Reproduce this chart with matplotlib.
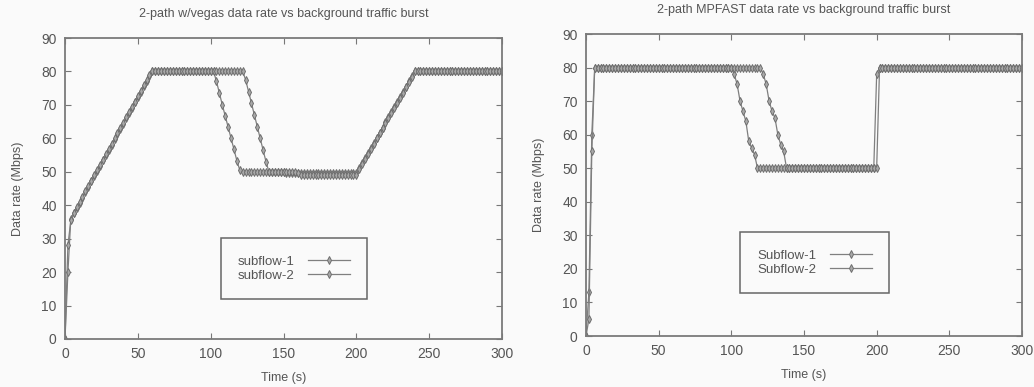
import matplotlib
matplotlib.use("Agg")
import matplotlib.pyplot as plt

plt.rcParams['font.family'] = ['Liberation Sans', 'DejaVu Sans']

# sample times (s), both runs logged every 2 s
t_vegas = list(range(0, 301, 2))
t_mpfast = list(range(0, 301, 2))

vegas_sf1 = [
    0, 20, 36, 37.6, 39.2, 40.7, 42.3, 43.9, 45.5, 47.1, 48.6, 50.2, 51.8, 53.4, 55, 56.5, 58.1, 59.7, 61.3, 62.9,
    64.4, 66, 67.6, 69.2, 70.8, 72.3, 73.9, 75.5, 77.1, 78.7, 80, 80, 80, 80, 80, 80, 80, 80, 80, 80,
    80, 80, 80, 80, 80, 80, 80, 80, 80, 80, 80, 80, 77, 73.5, 70, 66.7, 63.3, 60, 56.7, 53.3,
    50.5, 50, 50, 50, 50, 50, 50, 50, 50, 50, 50, 50, 50, 50, 50, 50, 49.5, 49.5, 49.5, 49.5,
    49.5, 49.5, 49.5, 49.5, 49.5, 49.5, 49.5, 49.5, 49.5, 49.5, 49.5, 49.5, 49.5, 49.5, 49.5, 49.5, 49.5, 49.5, 49.5, 49.5,
    49.5, 51, 52.5, 54, 55.5, 57.1, 58.6, 60.2, 61.7, 63.2, 64.8, 66.3, 67.8, 69.3, 70.9, 72.4, 73.9, 75.4, 77, 78.5,
    80, 80, 80, 80, 80, 80, 80, 80, 80, 80, 80, 80, 80, 80, 80, 80, 80, 80, 80, 80,
    80, 80, 80, 80, 80, 80, 80, 80, 80, 80,
    80,
]
vegas_sf2 = [
    0, 28, 35.5, 37.8, 39.4, 41, 42.6, 44.2, 45.8, 47.3, 48.9, 50.5, 52.1, 53.6, 55.2, 56.8, 58.4, 60, 61.5, 63.1,
    64.7, 66.3, 67.9, 69.4, 71, 72.6, 74.2, 75.8, 77.3, 78.9, 80, 80, 80, 80, 80, 80, 80, 80, 80, 80,
    80, 80, 80, 80, 80, 80, 80, 80, 80, 80, 80, 80, 80, 80, 80, 80, 80, 80, 80, 80,
    80, 80, 77.5, 74, 70.5, 67, 63.5, 60, 56.5, 53, 50, 50, 50, 50, 50, 50, 50, 50, 50, 50,
    49.5, 49, 49, 49, 49, 49, 49, 49, 49, 49, 49, 49, 49, 49, 49, 49, 49, 49, 49, 49,
    49, 50.8, 52.3, 53.8, 55.3, 56.9, 58.4, 60, 61.5, 63, 64.6, 66.1, 67.6, 69.1, 70.7, 72.2, 73.7, 75.2, 76.8, 78.3,
    80, 80, 80, 80, 80, 80, 80, 80, 80, 80, 80, 80, 80, 80, 80, 80, 80, 80, 80, 80,
    80, 80, 80, 80, 80, 80, 80, 80, 80, 80,
    80,
]

mpfast_sf1 = [
    0, 13, 60, 80, 80, 80, 80, 80, 80, 80, 80, 80, 80, 80, 80, 80, 80, 80, 80, 80,
    80, 80, 80, 80, 80, 80, 80, 80, 80, 80, 80, 80, 80, 80, 80, 80, 80, 80, 80, 80,
    80, 80, 80, 80, 80, 80, 80, 80, 80, 80, 80, 78, 75, 70, 67, 64, 58, 56, 54, 50,
    50, 50, 50, 50, 50, 50, 50, 50, 50, 50, 50, 50, 50, 50, 50, 50, 50, 50, 50, 50,
    50, 50, 50, 50, 50, 50, 50, 50, 50, 50, 50, 50, 50, 50, 50, 50, 50, 50, 50, 50,
    78, 80, 80, 80, 80, 80, 80, 80, 80, 80, 80, 80, 80, 80, 80, 80, 80, 80, 80, 80,
    80, 80, 80, 80, 80, 80, 80, 80, 80, 80, 80, 80, 80, 80, 80, 80, 80, 80, 80, 80,
    80, 80, 80, 80, 80, 80, 80, 80, 80, 80,
    80,
]
mpfast_sf2 = [
    0, 5, 55, 80, 80, 80, 80, 80, 80, 80, 80, 80, 80, 80, 80, 80, 80, 80, 80, 80,
    80, 80, 80, 80, 80, 80, 80, 80, 80, 80, 80, 80, 80, 80, 80, 80, 80, 80, 80, 80,
    80, 80, 80, 80, 80, 80, 80, 80, 80, 80, 80, 80, 80, 80, 80, 80, 80, 80, 80, 80,
    80, 78, 75, 70, 67, 65, 60, 57, 55, 50, 50, 50, 50, 50, 50, 50, 50, 50, 50, 50,
    50, 50, 50, 50, 50, 50, 50, 50, 50, 50, 50, 50, 50, 50, 50, 50, 50, 50, 50, 50,
    50, 80, 80, 80, 80, 80, 80, 80, 80, 80, 80, 80, 80, 80, 80, 80, 80, 80, 80, 80,
    80, 80, 80, 80, 80, 80, 80, 80, 80, 80, 80, 80, 80, 80, 80, 80, 80, 80, 80, 80,
    80, 80, 80, 80, 80, 80, 80, 80, 80, 80,
    80,
]

x_ticks = [0, 50, 100, 150, 200, 250, 300]
y_ticks = [0, 10, 20, 30, 40, 50, 60, 70, 80, 90]

TXT = '#555555'
LINE = '#7f7f7f'
W, H = 1034, 387

fig = plt.figure(figsize=(W / 100, H / 100), dpi=100, facecolor='#fafafa')


def panel(box, t, s1, s2, labels, title, leg_xy):
    l, r, top, bot = box
    ax = fig.add_axes([l / W, (H - bot) / H, (r - l) / W, (bot - top) / H])
    ax.set_facecolor('#fafafa')
    for s, lab in ((s1, labels[0]), (s2, labels[1])):
        ax.plot(t, s, color=LINE, lw=0.9, marker='d', ms=3.8,
                mfc='#a8a8a8', mec='#6e6e6e', mew=0.7, label=lab)
    ax.set_xlim(0, 300)
    ax.set_ylim(0, 90)
    ax.set_xticks(x_ticks)
    ax.set_yticks(y_ticks)
    ax.tick_params(direction='in', top=True, right=True, length=4, width=0.8,
                   color='#777777', labelcolor=TXT, labelsize=10, pad=6)
    for sp in ax.spines.values():
        sp.set_color('#7a7a7a')
        sp.set_linewidth(1.3)
    ax.set_title(title, fontsize=9, color=TXT, pad=15)
    ax.set_xlabel('Time (s)', fontsize=9, color=TXT, labelpad=8)
    ax.set_ylabel('Data rate (Mbps)', fontsize=9, color=TXT, labelpad=12)
    leg = ax.legend(loc='center', bbox_to_anchor=leg_xy, markerfirst=False,
                    fancybox=False, framealpha=1, edgecolor='#666666',
                    fontsize=9.5, handlelength=3.2, borderpad=1.3,
                    labelspacing=0.15, handletextpad=1.0, borderaxespad=0)
    leg.get_frame().set_linewidth(1.1)
    leg.get_frame().set_facecolor('#fafafa')
    for tx in leg.get_texts():
        tx.set_color(TXT)
    return ax


panel((65, 502, 38, 339), t_vegas, vegas_sf1, vegas_sf2,
      ['subflow-1', 'subflow-2'],
      '2-path w/vegas data rate vs background traffic burst', (0.524, 0.233))
panel((586, 1022, 34, 336), t_mpfast, mpfast_sf1, mpfast_sf2,
      ['Subflow-1', 'Subflow-2'],
      '2-path MPFAST data rate vs background traffic burst', (0.525, 0.243))

fig.savefig('out.png', dpi=100, facecolor=fig.get_facecolor())
